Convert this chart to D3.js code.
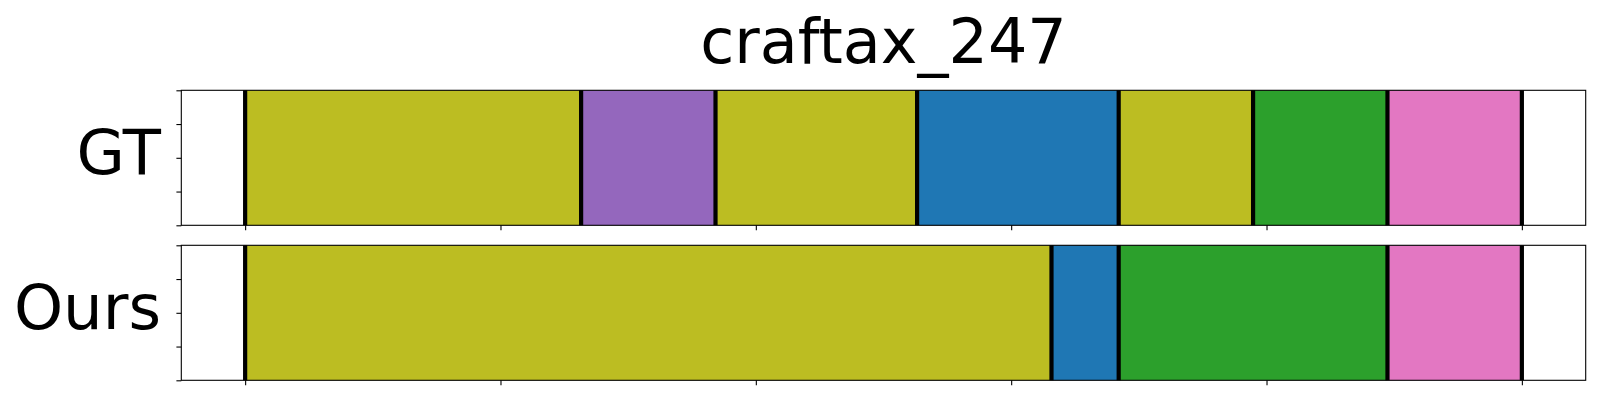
<!DOCTYPE html>
<html>
<head>
<meta charset="utf-8">
<script src="https://cdn.jsdelivr.net/npm/d3@7"></script>
<style>
  html, body { margin: 0; padding: 0; background: #fff; }
  svg { display: block; font-family: "DejaVu Sans", sans-serif; }
</style>
</head>
<body>
<svg id="chart" width="1600" height="400"></svg>
<script>
// ---- data ----
const title = "craftax_247";
const totalLength = 19;
const rowLabels = ["GT", "Ours"];
const gtStarts = [0, 5, 7, 10, 13, 15, 17];
const gtEnds = [5, 7, 10, 13, 15, 17, 19];
const gtClasses = [8, 4, 8, 0, 8, 2, 6];
const oursStarts = [0, 12, 13, 17];
const oursEnds = [12, 13, 17, 19];
const oursClasses = [8, 0, 2, 6];
const xTicks = [0, 3.8, 7.6, 11.4, 15.2, 19];
const yTicks = [0, 0.25, 0.5, 0.75, 1];
const palette = ["#1f77b4", "#ff7f0e", "#2ca02c", "#d62728", "#9467bd",
                 "#8c564b", "#e377c2", "#7f7f7f", "#bcbd22", "#17becf"];

// ---- layout ----
const svg = d3.select("#chart");
const left = 181.3, right = 1585.7;
const panels = [
  { label: rowLabels[0], starts: gtStarts, ends: gtEnds, cls: gtClasses, top: 90.3, bottom: 225.3 },
  { label: rowLabels[1], starts: oursStarts, ends: oursEnds, cls: oursClasses, top: 245.3, bottom: 380.3 }
];
const margin = 0.05 * totalLength;
const x = d3.scaleLinear().domain([-margin, totalLength + margin]).range([left, right]);

svg.append("text")
  .attr("x", (left + right) / 2)
  .attr("y", 63.3)
  .attr("text-anchor", "middle")
  .attr("font-size", "62px")
  .attr("fill", "#000")
  .text(title);

panels.forEach(p => {
  const y = d3.scaleLinear().domain([0, 1]).range([p.bottom, p.top]);
  const g = svg.append("g");
  const segs = p.starts.map((s, i) => ({ s, e: p.ends[i], c: p.cls[i] }));

  g.selectAll("rect.seg").data(segs).enter().append("rect")
    .attr("class", "seg")
    .attr("x", d => x(d.s))
    .attr("width", d => x(d.e) - x(d.s))
    .attr("y", y(1))
    .attr("height", y(0) - y(1))
    .attr("fill", d => palette[d.c]);

  const bounds = Array.from(new Set([...p.starts, ...p.ends]));
  g.selectAll("line.bd").data(bounds).enter().append("line")
    .attr("class", "bd")
    .attr("x1", d => x(d)).attr("x2", d => x(d))
    .attr("y1", y(1)).attr("y2", y(0))
    .attr("stroke", "#000")
    .attr("stroke-width", 4.2);

  // axes
  const xAxis = d3.axisBottom(x).tickValues(xTicks).tickFormat("").tickSizeInner(4.9).tickSizeOuter(0);
  const xg = g.append("g").attr("transform", `translate(0,${p.bottom})`).call(xAxis);
  xg.select(".domain").remove();
  xg.selectAll(".tick line").attr("stroke", "#000").attr("stroke-width", 1.1);

  const yAxis = d3.axisLeft(y).tickValues(yTicks).tickFormat("").tickSizeInner(4.9).tickSizeOuter(0);
  const yg = g.append("g").attr("transform", `translate(${left},0)`).call(yAxis);
  yg.select(".domain").remove();
  yg.selectAll(".tick line").attr("stroke", "#000").attr("stroke-width", 1.1);

  g.append("rect")
    .attr("x", left).attr("y", p.top)
    .attr("width", right - left).attr("height", p.bottom - p.top)
    .attr("fill", "none").attr("stroke", "#000").attr("stroke-width", 1.1);

  g.append("text")
    .attr("x", 161)
    .attr("y", (p.top + p.bottom) / 2 + 16)
    .attr("text-anchor", "end")
    .attr("font-size", "62.5px")
    .attr("fill", "#000")
    .text(p.label);
});
</script>
</body>
</html>
